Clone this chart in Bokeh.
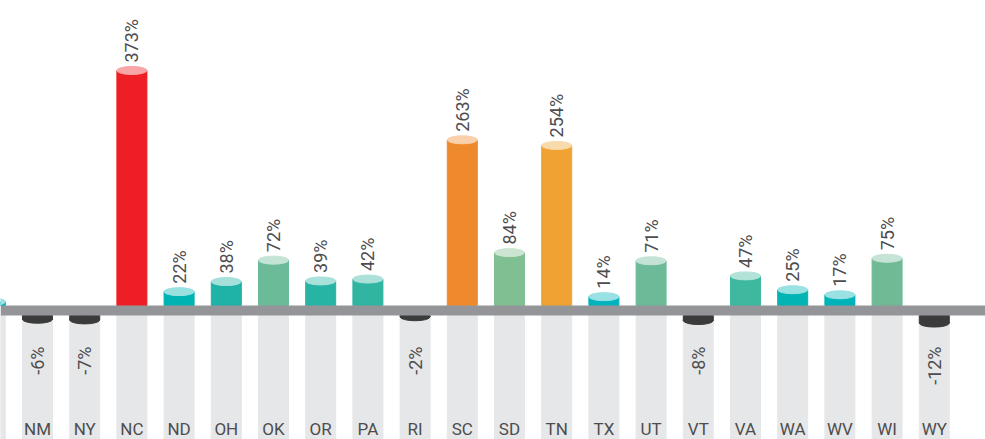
import math
from bokeh.plotting import figure
from bokeh.models import Range1d, BoxAnnotation, ColumnDataSource
from bokeh.core.properties import value
from bokeh.embed import file_html
from bokeh.resources import INLINE

# ---- data ----
# NJ is only partly visible at the left edge of the reference
states = ["NJ", "NM", "NY", "NC", "ND", "OH", "OK", "OR", "PA", "RI", "SC",
          "SD", "TN", "TX", "UT", "VT", "VA", "WA", "WV", "WI", "WY"]
changes = [6, -6, -7, 373, 22, 38, 72, 39, 42, -2, 263,
           84, 254, 14, 71, -8, 47, 25, 17, 75, -12]
bar_colors = ["#00b3b8", "#3b3b3c", "#3b3b3c", "#ed1f24", "#00b3b3", "#1fb2a6",
              "#6cbb98", "#27b4a5", "#2fb5a2", "#3b3b3c", "#ef892d", "#80bf92",
              "#f0a232", "#00b3bd", "#6cba98", "#3b3b3c", "#3eb89f", "#03b4b4",
              "#00b3b9", "#70bb95", "#3b3b3c"]

# ---- style ----
FONT = "Roboto"
TEXT_COLOR = "#4d4d4f"
PX_PER_UNIT_Y = 0.63
BAND = 10 / PX_PER_UNIT_Y      # thickness of the baseline band in data units
BAR_W = 0.6356
FIRST_LABELLED = 1             # NJ's labels fall outside the view


def lighten(hexc, f=0.6):
    h = hexc.lstrip("#")
    r, g, b = (int(h[i:i + 2], 16) for i in (0, 2, 4))
    r, g, b = (round(c + (255 - c) * f) for c in (r, g, b))
    return "#%02x%02x%02x" % (r, g, b)


xs = [i - 1 for i in range(len(states))]   # NM at 0
pos = [(x, v, c) for x, v, c in zip(xs, changes, bar_colors) if v >= 0]
neg = [(x, v, c) for x, v, c in zip(xs, changes, bar_colors) if v < 0]

pos_src = ColumnDataSource(dict(
    x=[p[0] for p in pos], v=[p[1] for p in pos],
    c=[p[2] for p in pos], top=[lighten(p[2]) for p in pos]))
neg_src = ColumnDataSource(dict(
    x=[p[0] for p in neg], v=[p[1] for p in neg],
    bottom=[-BAND + p[1] for p in neg], c=[p[2] for p in neg]))

pos_lab = ColumnDataSource(dict(
    x=[p[0] for p in pos if p[0] >= 0], v=[p[1] for p in pos if p[0] >= 0],
    lab=["%d%%" % p[1] for p in pos if p[0] >= 0]))
neg_lab = ColumnDataSource(dict(
    x=[p[0] for p in neg if p[0] >= 0],
    lab=["-%d%%" % abs(p[1]) for p in neg if p[0] >= 0]))

p = figure(width=985, height=439,
           x_range=Range1d(-0.784, 20.085), y_range=Range1d(-212.7, 484.1),
           output_backend="svg", toolbar_location=None, min_border=0)
p.axis.visible = False
p.grid.visible = False
p.outline_line_color = None
p.background_fill_color = "white"
p.border_fill_color = "white"

# light grey columns below the baseline
p.vbar(x=xs, top=-BAND, bottom=-400, width=BAR_W, color="#e6e7e8")

# positive cylinders
p.vbar(x="x", top="v", bottom=0, width=BAR_W, color="c", source=pos_src)
p.ellipse(x="x", y="v", width=30, height=8, width_units="screen",
          height_units="screen", color="top", source=pos_src)

# negative cylinders (hang below the band)
p.vbar(x="x", top=-BAND, bottom="bottom", width=BAR_W, color="c", source=neg_src)
p.ellipse(x="x", y="bottom", width=30, height=8, width_units="screen",
          height_units="screen", color="c", source=neg_src)

# baseline band
p.add_layout(BoxAnnotation(top=0, bottom=-BAND, fill_color="#939598",
                           fill_alpha=1.0, line_color=None))

# value labels
p.text(x="x", y="v", text="lab", source=pos_lab, angle=math.pi / 2,
       text_align="left", text_baseline="middle", y_offset=-8,
       text_font=value(FONT), text_font_size="18px", text_color=TEXT_COLOR)
p.text(x="x", y=-65, text="lab", source=neg_lab, angle=math.pi / 2,
       text_align="right", text_baseline="middle",
       text_font=value(FONT), text_font_size="18px", text_color=TEXT_COLOR)

# state labels
p.text(x=xs[FIRST_LABELLED:], y=[-196.8] * (len(xs) - FIRST_LABELLED),
       text=states[FIRST_LABELLED:], text_align="center",
       text_baseline="middle", text_font=value(FONT),
       text_font_size="17px", text_color=TEXT_COLOR)

open("out.html", "w").write(file_html(p, INLINE))
